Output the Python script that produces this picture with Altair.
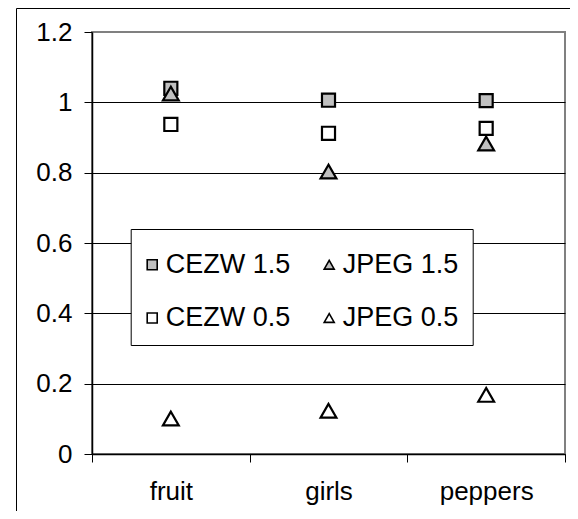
import altair as alt
import pandas as pd

images = ["fruit", "girls", "peppers"]
series_order = ["CEZW 1.5", "CEZW 0.5", "JPEG 1.5", "JPEG 0.5"]

cezw_15 = [1.04, 1.006, 1.005]
cezw_05 = [0.937, 0.912, 0.926]
jpeg_15 = [1.025, 0.803, 0.883]
jpeg_05 = [0.101, 0.123, 0.168]

y_ticks = [0, 0.2, 0.4, 0.6, 0.8, 1.0, 1.2]

values = {"CEZW 1.5": cezw_15, "CEZW 0.5": cezw_05, "JPEG 1.5": jpeg_15, "JPEG 0.5": jpeg_05}
rows = []
for s in series_order:
    for img, v in zip(images, values[s]):
        rows.append({"image": img, "series": s, "value": v, "kind": s.split()[0]})
df = pd.DataFrame(rows)

FONT = "Liberation Sans"
FS = 26

legend = alt.Legend(
    orient="none", legendX=38.7, legendY=197, columns=2,
    title=" ", titleFontSize=8, titlePadding=0,
    padding=14, rowPadding=25.5, columnPadding=30,
    fillColor="white", strokeColor="black",
    labelFont=FONT, labelFontSize=27, labelColor="black", labelLimit=300,
    labelOffset=0, symbolOffset={"expr": "-6"}, symbolSize=100,
    symbolStrokeWidth=1.6, symbolOpacity=1,
)

x_enc = alt.X("image:N", sort=images,
              scale=alt.Scale(type="band", paddingInner=0, paddingOuter=0),
              axis=alt.Axis(title=None, tickBand="extent", labelAngle=0, tickSize=8,
                            labelPadding=16, labelFont=FONT, labelFontSize=FS,
                            labelColor="black", tickColor="black", domainColor="black",
                            domainWidth=1.5, grid=False))
y_enc = alt.Y("value:Q", scale=alt.Scale(domain=[0, 1.2], nice=False, zero=True),
              axis=alt.Axis(title=None, values=y_ticks, format="~g", tickSize=8,
                            labelPadding=12, labelFont=FONT, labelFontSize=FS,
                            labelColor="black", tickColor="black", domainColor="black",
                            domainWidth=1.5, grid=True,
                            gridColor={"condition": {"test": "datum.value >= 1.2", "value": "#808080"},
                                       "value": "black"},
                            gridWidth=1))
shape_enc = alt.Shape("series:N",
                      scale=alt.Scale(domain=series_order,
                                      range=["square", "square", "triangle-up", "triangle-up"]),
                      legend=legend)
fill_enc = alt.Fill("series:N",
                    scale=alt.Scale(domain=series_order,
                                    range=["#c0c0c0", "white", "#c0c0c0", "white"]),
                    legend=legend)
stroke_enc = alt.Stroke("series:N",
                        scale=alt.Scale(domain=series_order,
                                        range=["black", "black", "black", "black"]),
                        legend=legend)

base = alt.Chart(df).encode(x=x_enc, y=y_enc, shape=shape_enc, fill=fill_enc,
                            stroke=stroke_enc)

squares = base.transform_filter(alt.datum.kind == "CEZW").mark_point(
    filled=True, strokeWidth=2.2, opacity=1, size=170)
triangles = base.transform_filter(alt.datum.kind == "JPEG").mark_point(
    filled=True, strokeWidth=2.2, opacity=1, size=250)

frame_src = alt.Data(values=[{"k": 1}])
frame_left = alt.Chart(frame_src).mark_rule(color="black", strokeWidth=1).encode(
    x=alt.value(-75.5), y=alt.value(-23.5), y2=alt.value(520))
frame_top = alt.Chart(frame_src).mark_rule(color="black", strokeWidth=1).encode(
    x=alt.value(-75.5), x2=alt.value(600), y=alt.value(-23.5))

chart = alt.layer(squares, triangles, frame_left, frame_top).properties(
    width=473, height=422,
    autosize=alt.AutoSizeParams(type="none"),
    padding={"left": 84, "top": 24, "right": 5, "bottom": 57},
    background="white",
).configure_view(stroke="#808080", strokeWidth=2)

chart.save("out.html", embed_options={"renderer": "svg", "actions": False})
